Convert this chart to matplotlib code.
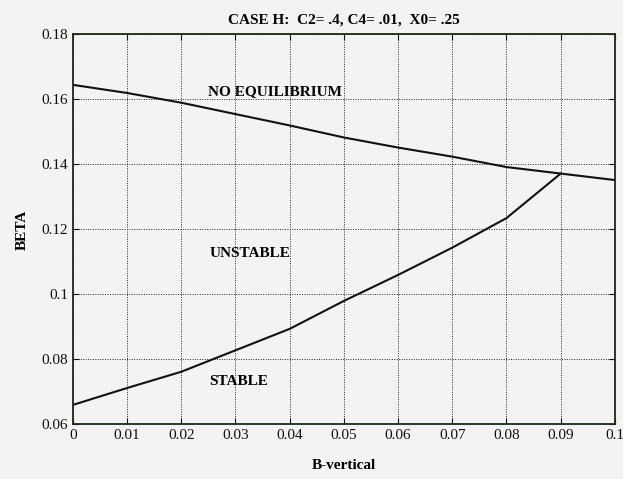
import numpy as np
import matplotlib.pyplot as plt

plt.rcParams['font.family'] = ['Liberation Serif', 'DejaVu Serif']

# B-vertical values and stability boundaries
b_vert = [0.0, 0.01, 0.02, 0.03, 0.04, 0.05, 0.06, 0.07, 0.08, 0.09, 0.1]
beta_no_eq = [0.1645, 0.1620, 0.1590, 0.1555, 0.1520, 0.1483, 0.1452, 0.1424, 0.1392, 0.1372, 0.1352]
b_vert_stab = [0.0, 0.01, 0.02, 0.03, 0.04, 0.05, 0.06, 0.07, 0.08, 0.09]
beta_stab = [0.0660, 0.0712, 0.0762, 0.0828, 0.0894, 0.0980, 0.1060, 0.1144, 0.1235, 0.1372]

x_ticks = [0, 0.01, 0.02, 0.03, 0.04, 0.05, 0.06, 0.07, 0.08, 0.09, 0.1]
x_labels = ['0', '0.01', '0.02', '0.03', '0.04', '0.05', '0.06', '0.07', '0.08', '0.09', '0.1']
y_ticks = [0.06, 0.08, 0.1, 0.12, 0.14, 0.16, 0.18]
y_labels = ['0.06', '0.08', '0.1', '0.12', '0.14', '0.16', '0.18']

bg = '#f3f3f1'
fig = plt.figure(figsize=(6.23, 4.79), dpi=100, facecolor=bg)
ax = fig.add_axes([0.117, 0.114, 0.870, 0.814], facecolor=bg)

ax.plot(b_vert, beta_no_eq, color='#111111', lw=1.5)
ax.plot(b_vert_stab, beta_stab, color='#111111', lw=1.5)

ax.set_xlim(0, 0.1)
ax.set_ylim(0.06, 0.18)
ax.set_xticks(x_ticks)
ax.set_xticklabels(x_labels)
ax.set_yticks(y_ticks)
ax.set_yticklabels(y_labels)
ax.tick_params(direction='in', top=True, right=True, length=4, labelsize=11, colors='#111111')
ax.grid(True, color='#222222', linestyle=(0, (1, 1.5)), linewidth=0.7)
for s in ax.spines.values():
    s.set_color('#1a2a1a')
    s.set_linewidth(1.3)

ax.text(0.025, 0.1625, 'NO EQUILIBRIUM', fontsize=11, fontweight='bold', va='center')
ax.text(0.0252, 0.1126, 'UNSTABLE', fontsize=11, fontweight='bold', va='center')
ax.text(0.0252, 0.0731, 'STABLE', fontsize=11, fontweight='bold', va='center')

ax.set_title('CASE H:  C2= .4, C4= .01,  X0= .25', fontsize=11, fontweight='bold', pad=8)
ax.set_xlabel('B-vertical', fontsize=11, fontweight='bold', labelpad=12)
ax.set_ylabel('BETA', fontsize=11, fontweight='bold', labelpad=9)

fig.savefig('out.png', dpi=100, facecolor=bg)
